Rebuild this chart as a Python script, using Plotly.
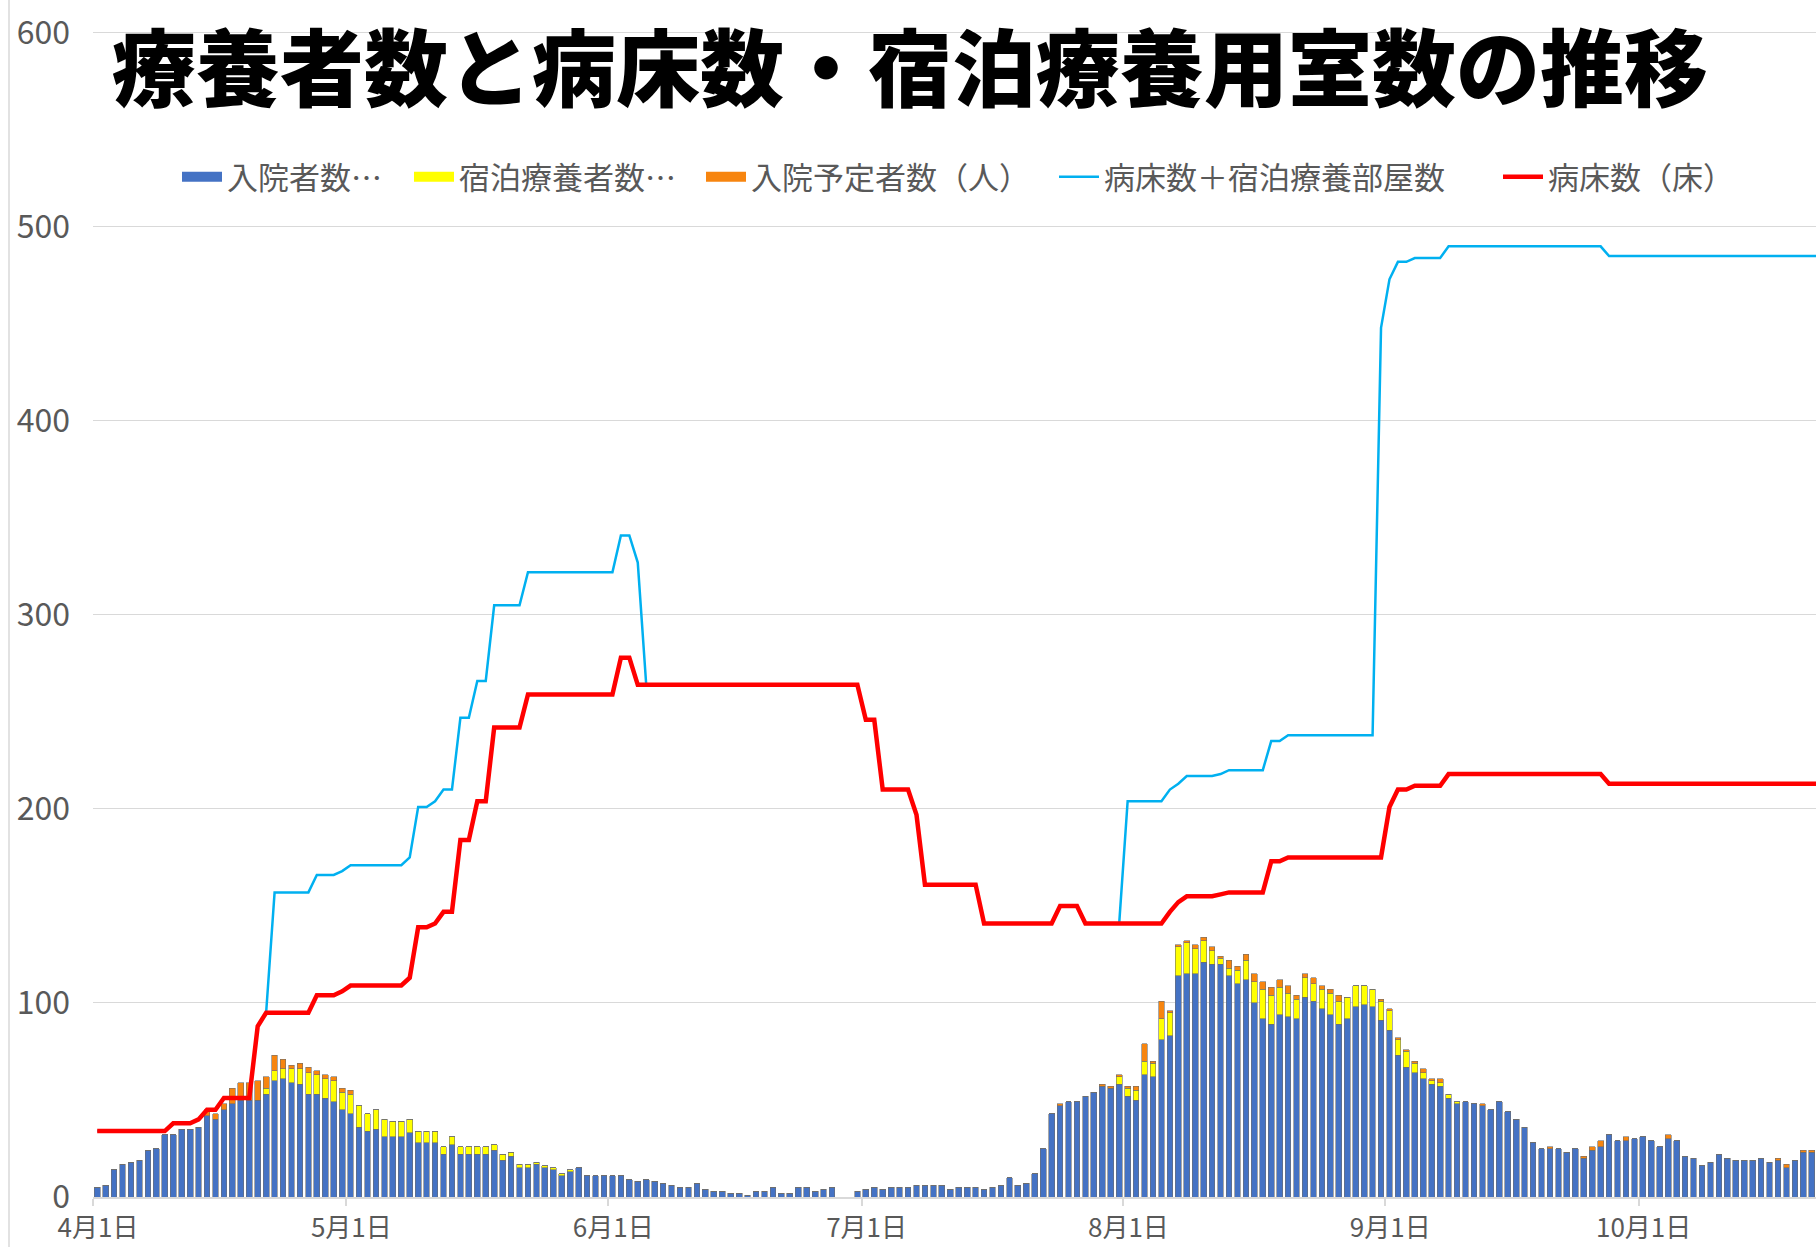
import pandas as pd
import plotly.graph_objects as go

# ---------------- data ----------------
start_date = "2020-04-01"
n_days = 205
visible_days = 204
dates = pd.date_range(start_date, periods=n_days, freq="D")

tick_dates = ["2020-04-01", "2020-05-01", "2020-06-01", "2020-07-01",
              "2020-08-01", "2020-09-01", "2020-10-01"]
tick_labels = ["4月1日", "5月1日", "6月1日", "7月1日", "8月1日", "9月1日", "10月1日"]
y_ticks = [0, 100, 200, 300, 400, 500, 600]

# 入院者数（人）
hospitalized = [
    5, 6, 14, 17, 18, 19, 24, 25, 32, 32, 35, 35, 36, 42, 40, 45, 48, 50, 50, 50,
    53, 60, 61, 59, 58, 53, 53, 51, 49, 45, 43, 36, 34, 35, 31, 31, 31, 33, 28, 28,
    28, 22, 27, 22, 22, 22, 22, 24, 19, 21, 15, 15, 17, 15, 14, 11, 13, 15, 11, 11,
    11, 11, 11, 9, 8, 9, 8, 7, 6, 5, 5, 7, 4, 3, 3, 2, 2, 1, 3, 3,
    5, 2, 2, 5, 5, 3, 4, 5, 0, 0, 3, 4, 5, 4, 5, 5, 5, 6, 6, 6,
    6, 4, 5, 5, 5, 4, 5, 6, 10, 6, 7, 12, 25, 43, 47, 49, 49, 52, 54, 57,
    56, 58, 52, 50, 63, 62, 81, 83, 114, 115, 115, 121, 120, 120, 114, 110, 112, 100, 92, 89,
    94, 93, 92, 103, 101, 97, 94, 89, 92, 98, 99, 98, 91, 86, 73, 67, 64, 61, 58, 57,
    51, 48, 49, 48, 47, 45, 49, 44, 40, 36, 28, 25, 25, 25, 23, 25, 20, 24, 26, 32,
    29, 29, 30, 31, 29, 26, 30, 29, 21, 20, 16, 18, 22, 20, 19, 19, 19, 20, 18, 19,
    15, 19, 23, 23, 23,
]

# 宿泊療養者数（人）
hotel = [
    0, 0, 0, 0, 0, 0, 0, 0, 0, 0, 0, 0, 0, 0, 0, 0, 0, 0, 0, 0,
    3, 5, 5, 7, 8, 11, 10, 10, 11, 9, 10, 11, 9, 10, 9, 8, 8, 7, 6, 6,
    6, 4, 4, 4, 4, 4, 4, 3, 3, 2, 2, 2, 1, 1, 1, 1, 1, 0, 0, 0,
    0, 0, 0, 0, 0, 0, 0, 0, 0, 0, 0, 0, 0, 0, 0, 0, 0, 0, 0, 0,
    0, 0, 0, 0, 0, 0, 0, 0, 0, 0, 0, 0, 0, 0, 0, 0, 0, 0, 0, 0,
    0, 0, 0, 0, 0, 0, 0, 0, 0, 0, 0, 0, 0, 0, 0, 0, 0, 0, 0, 0,
    0, 4, 4, 5, 7, 7, 11, 12, 15, 16, 13, 11, 7, 3, 4, 7, 10, 11, 15, 15,
    14, 12, 10, 10, 9, 10, 11, 12, 11, 11, 10, 9, 10, 10, 8, 8, 5, 3, 2, 2,
    2, 1, 0, 0, 0, 0, 0, 0, 0, 0, 0, 0, 0, 0, 0, 0, 0, 0, 0, 0,
    0, 0, 0, 0, 0, 0, 0, 0, 0, 0, 0, 0, 0, 0, 0, 0, 0, 0, 0, 0,
    0, 0, 0, 0, 0,
]

# 入院予定者数（人）
scheduled = [
    0, 0, 0, 0, 0, 0, 0, 0, 0, 0, 0, 0, 0, 3, 3, 3, 8, 9, 9, 10,
    6, 8, 5, 2, 3, 3, 2, 2, 2, 2, 2, 0, 0, 0, 0, 0, 0, 0, 0, 0,
    0, 0, 0, 0, 0, 0, 0, 0, 0, 0, 0, 0, 0, 0, 0, 0, 0, 0, 0, 0,
    0, 0, 0, 0, 0, 0, 0, 0, 0, 0, 0, 0, 0, 0, 0, 0, 0, 0, 0, 0,
    0, 0, 0, 0, 0, 0, 0, 0, 0, 0, 0, 0, 0, 0, 0, 0, 0, 0, 0, 0,
    0, 0, 0, 0, 0, 0, 0, 0, 0, 0, 0, 0, 0, 0, 1, 0, 0, 0, 0, 1,
    1, 1, 1, 2, 9, 1, 9, 1, 1, 1, 2, 2, 2, 1, 4, 2, 3, 4, 4, 4,
    4, 4, 2, 2, 3, 2, 2, 3, 0, 0, 0, 0, 1, 1, 1, 1, 1, 2, 1, 2,
    0, 0, 0, 0, 1, 0, 0, 0, 0, 0, 0, 0, 1, 0, 0, 0, 1, 2, 3, 0,
    0, 2, 0, 0, 0, 0, 2, 0, 0, 0, 0, 0, 0, 0, 0, 0, 0, 0, 0, 1,
    2, 0, 1, 1, 1,
]

# 病床数＋宿泊療養部屋数
beds_plus_rooms = [
    34, 34, 34, 34, 34, 34, 34, 34, 34, 38, 38, 38, 40, 45, 45, 51, 51, 51, 51, 88,
    95, 157, 157, 157, 157, 157, 166, 166, 166, 168, 171, 171, 171, 171, 171, 171, 171, 175, 201, 201,
    204, 210, 210, 247, 247, 266, 266, 305, 305, 305, 305, 322, 322, 322, 322, 322, 322, 322, 322, 322,
    322, 322, 341, 341, 327, 264, 264, 264, 264, 264, 264, 264, 264, 264, 264, 264, 264, 264, 264, 264,
    264, 264, 264, 264, 264, 264, 264, 264, 264, 264, 264, 246, 246, 210, 210, 210, 210, 197, 161, 161,
    161, 161, 161, 161, 161, 141, 141, 141, 141, 141, 141, 141, 141, 141, 150, 150, 150, 141, 141, 141,
    141, 141, 204, 204, 204, 204, 204, 210, 213, 217, 217, 217, 217, 218, 220, 220, 220, 220, 220, 235,
    235, 238, 238, 238, 238, 238, 238, 238, 238, 238, 238, 238, 448, 473, 482, 482, 484, 484, 484, 484,
    490, 490, 490, 490, 490, 490, 490, 490, 490, 490, 490, 490, 490, 490, 490, 490, 490, 490, 490, 485,
    485, 485, 485, 485, 485, 485, 485, 485, 485, 485, 485, 485, 485, 485, 485, 485, 485, 485, 485, 485,
    485, 485, 485, 485, 485,
]

# 病床数（床）
beds = [
    34, 34, 34, 34, 34, 34, 34, 34, 34, 38, 38, 38, 40, 45, 45, 51, 51, 51, 51, 88,
    95, 95, 95, 95, 95, 95, 104, 104, 104, 106, 109, 109, 109, 109, 109, 109, 109, 113, 139, 139,
    141, 147, 147, 184, 184, 204, 204, 242, 242, 242, 242, 259, 259, 259, 259, 259, 259, 259, 259, 259,
    259, 259, 278, 278, 264, 264, 264, 264, 264, 264, 264, 264, 264, 264, 264, 264, 264, 264, 264, 264,
    264, 264, 264, 264, 264, 264, 264, 264, 264, 264, 264, 246, 246, 210, 210, 210, 210, 197, 161, 161,
    161, 161, 161, 161, 161, 141, 141, 141, 141, 141, 141, 141, 141, 141, 150, 150, 150, 141, 141, 141,
    141, 141, 141, 141, 141, 141, 141, 147, 152, 155, 155, 155, 155, 156, 157, 157, 157, 157, 157, 173,
    173, 175, 175, 175, 175, 175, 175, 175, 175, 175, 175, 175, 175, 201, 210, 210, 212, 212, 212, 212,
    218, 218, 218, 218, 218, 218, 218, 218, 218, 218, 218, 218, 218, 218, 218, 218, 218, 218, 218, 213,
    213, 213, 213, 213, 213, 213, 213, 213, 213, 213, 213, 213, 213, 213, 213, 213, 213, 213, 213, 213,
    213, 213, 213, 213, 213,
]

series_names = ["入院者数…", "宿泊療養者数…", "入院予定者数（人）", "病床数＋宿泊療養部屋数", "病床数（床）"]
title_text = "療養者数と病床数・宿泊療養用室数の推移"

# ---------------- styling ----------------
W, H = 1816, 1247
ML, MR, MT, MB = 93, 0, 31, 50
FONT = "Noto Sans CJK JP"
GRAY = "#595959"
GRID = "#D9D9D9"
ITEMW = 40

x_mid = dates + pd.Timedelta(hours=12)

fig = go.Figure()
bar_colors = ["#4472C4", "#FFFF00", "#F7850F"]
bar_data = [hospitalized, hotel, scheduled]
for i, (vals, col) in enumerate(zip(bar_data, bar_colors)):
    leg = "legend" if i == 0 else f"legend{i + 1}"
    fig.add_trace(go.Bar(
        x=x_mid, y=vals, name=series_names[i],
        marker=dict(color=col, line=dict(color="rgba(110,110,110,0.75)", width=0.8)),
        legend=leg, legendgroup=series_names[i], showlegend=False,
        hoverinfo="x+y+name",
    ))
    # legend swatch (wide rectangle like the original legend); draws no marks
    fig.add_trace(go.Scatter(
        x=[None], y=[None], mode="lines", name=series_names[i],
        line=dict(color=col, width=16), legend=leg,
        legendgroup=series_names[i], hoverinfo="skip",
    ))

fig.add_trace(go.Scatter(
    x=x_mid, y=beds_plus_rooms, name=series_names[3], mode="lines",
    line=dict(color="#00B0F0", width=2.5), legend="legend4",
))
fig.add_trace(go.Scatter(
    x=x_mid, y=beds, name=series_names[4], mode="lines",
    line=dict(color="#FF0000", width=4.5), legend="legend5",
))

# legends, one per entry, positioned like the original
leg_text_px = [229, 461, 753, 1106, 1550]
leg_y = 1 - 177 / H
legends = {}
for i, px in enumerate(leg_text_px):
    key = "legend" if i == 0 else f"legend{i + 1}"
    legends[key] = dict(
        x=(px - ITEMW - 12) / W, xref="container", xanchor="left",
        y=leg_y, yref="container", yanchor="middle",
        orientation="h", bgcolor="rgba(0,0,0,0)", borderwidth=0,
        font=dict(family=FONT, size=31, color=GRAY),
        itemwidth=ITEMW,
    )

plot_w = W - ML - MR
plot_h = H - MT - MB

fig.update_layout(
    width=W, height=H,
    margin=dict(l=ML, r=MR, t=MT, b=MB, pad=0, autoexpand=False),
    paper_bgcolor="white", plot_bgcolor="white",
    barmode="stack", bargap=0.32,
    showlegend=True,
    font=dict(family=FONT, color=GRAY),
    xaxis=dict(
        type="date",
        range=[pd.Timestamp(start_date), pd.Timestamp(start_date) + pd.Timedelta(days=visible_days)],
        tickvals=pd.to_datetime(tick_dates), ticktext=tick_labels,
        tickfont=dict(family=FONT, size=26, color=GRAY),
        ticklabelshift=5,
        ticks="outside", ticklen=7, tickwidth=2, tickcolor=GRID,
        showline=True, linecolor=GRID, linewidth=2,
        showgrid=False, zeroline=False, automargin=False,
    ),
    yaxis=dict(
        range=[0, 601], tickvals=y_ticks,
        tickfont=dict(family=FONT, size=32, color=GRAY),
        showgrid=True, gridcolor=GRID, gridwidth=1,
        zeroline=False, showline=False, ticks="",
        ticklabelstandoff=22, automargin=False,
    ),
    annotations=[dict(
        text=title_text, xref="paper", yref="paper",
        x=(110 - ML) / plot_w, xanchor="left",
        y=(H - MB - 64) / plot_h, yanchor="middle",
        showarrow=False,
        font=dict(family=FONT, size=84, color="black", weight=900),
    )],
    shapes=[dict(
        type="line", xref="paper", yref="paper",
        x0=(9 - ML) / plot_w, x1=(9 - ML) / plot_w,
        y0=-(MB) / plot_h, y1=(H - MB) / plot_h,
        line=dict(color=GRID, width=1.5),
    )],
    **legends,
)

fig.write_html("out.html", config={"displayModeBar": False},
               post_script="document.body.style.margin='0';document.body.style.overflow='hidden';")
